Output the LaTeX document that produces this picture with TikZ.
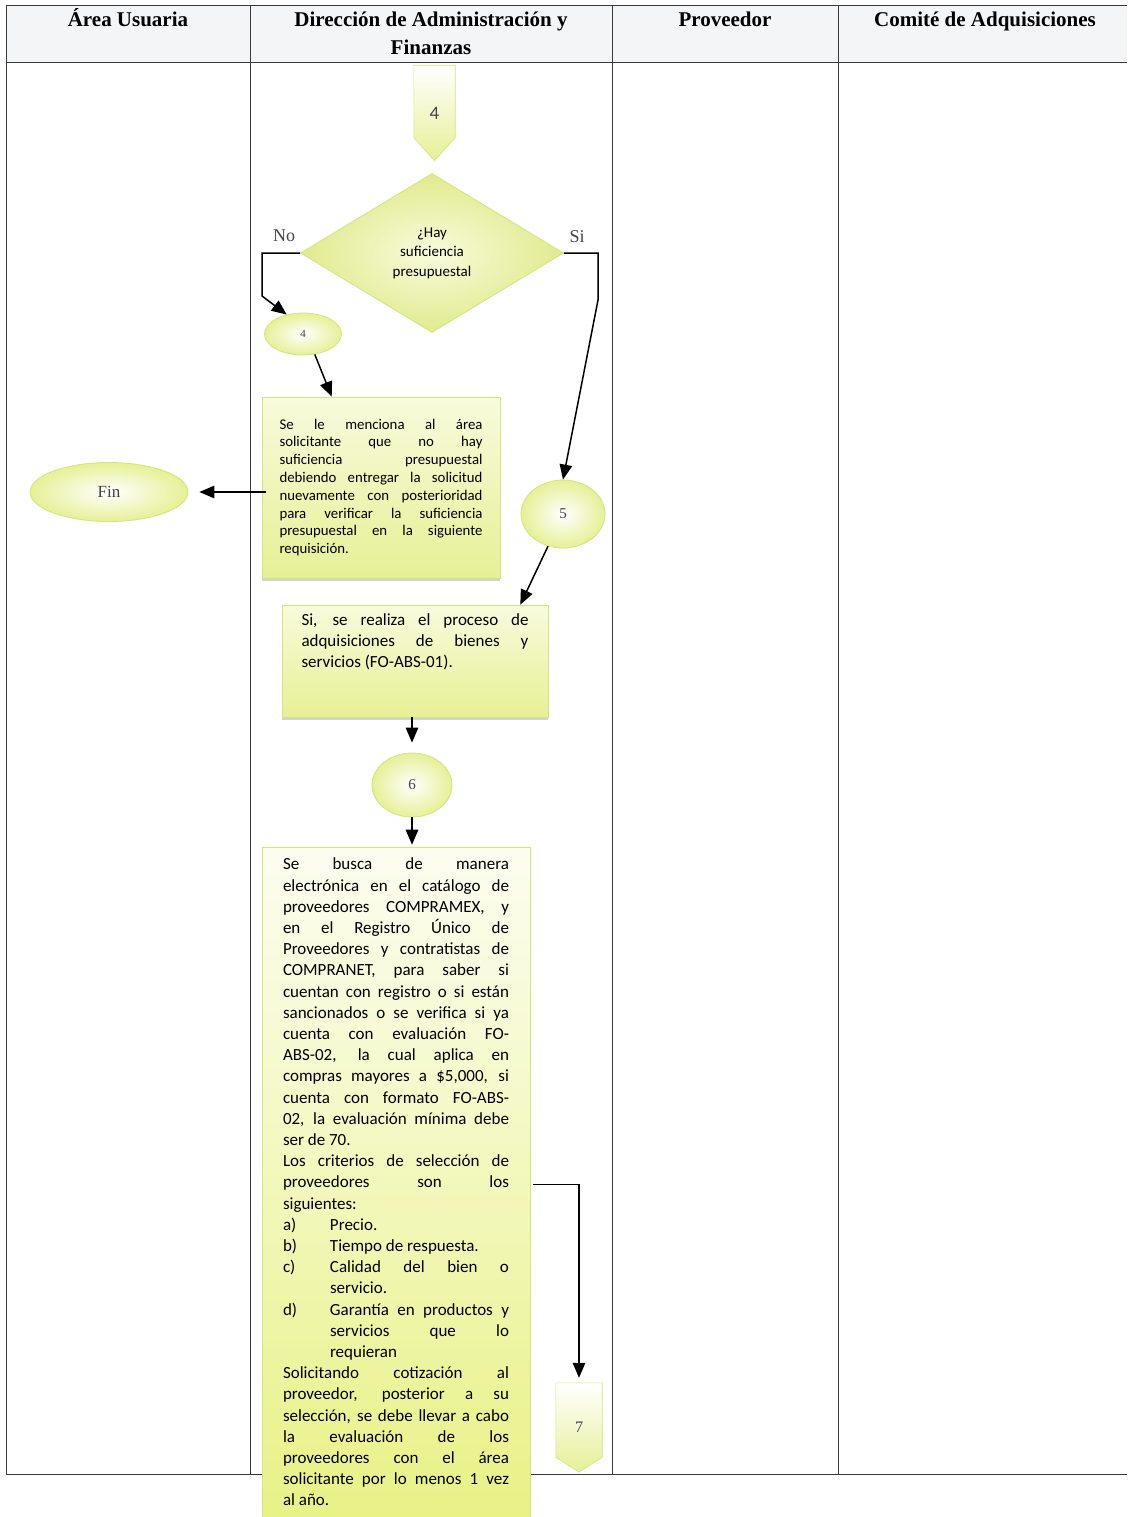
\documentclass[tikz,border=0pt]{standalone}
\usepackage{fontspec}
\setmainfont{Liberation Serif}
\newfontfamily\gill{Carlito}
\usetikzlibrary{arrows.meta,shapes.geometric,calc,backgrounds,shadows}
\definecolor{gedge}{HTML}{D3E47C}
\definecolor{gfill}{HTML}{E6F095}
\definecolor{glight}{HTML}{F8FBDC}
\definecolor{hdrfill}{HTML}{F3F5F7}
\definecolor{tline}{HTML}{3A3A3A}
\definecolor{numgray}{HTML}{444444}
\tikzset{
  tableline/.style={tline, line width=0.9pt},
  hdr/.style={font=\bfseries\fontsize{21}{28}\selectfont, anchor=base, inner sep=0pt},
  flow/.style={-{Triangle[length=15pt,width=12.5pt]}, line width=1.5pt, black},
  oval/.style={ellipse, draw=gedge, line width=0.8pt, inner color=white, outer color=gfill, inner sep=0pt, text=numgray},
  textbox/.style={rectangle, inner sep=0pt, draw=gedge, line width=0.6pt, top color=glight, bottom color=gfill},
  pentframe/.style={rectangle, inner sep=0pt, text=numgray},
  pentfill/.style={draw=gedge, line width=0.6pt, top color=white, bottom color=gfill},
  lbl/.style={font=\fontsize{18}{18}\selectfont, inner sep=0pt, text=numgray}
}
\newcommand{\boxtext}[2]{\begin{minipage}{#1}\setlength{\parindent}{0pt}\tolerance=10000\hyphenpenalty=10000\exhyphenpenalty=10000\emergencystretch=20pt #2\end{minipage}}
\newcommand{\litem}[2]{\hangindent=47pt\hangafter=0\noindent\llap{\makebox[47pt][l]{#1}}#2\par}
\begin{document}
\begin{tikzpicture}[x=1pt,y=-1pt]
\useasboundingbox (0,0) rectangle (1127,1517);
% table
\fill[hdrfill] (6,5) rectangle (1127,62);
\draw[tableline] (6,5) -- (1127,5);
\draw[tableline] (6,62) -- (1127,62);
\draw[tableline] (6,1474) -- (1127,1474);
\foreach \xx in {6,250,612,838} \draw[tableline] (\xx,5) -- (\xx,1474);
\node[hdr] (h1) at (128,27) {Área Usuaria};
\node[hdr, align=center] (h2) at (431,55) {Dirección de Administración y\\Finanzas};
\node[hdr] (h3) at (725,27) {Proveedor};
\node[hdr] (h4) at (985,27) {Comité de Adquisiciones};

% off-page connector 4
\node[pentframe, minimum width=41pt, minimum height=95pt, font=\gill\fontsize{19}{19}\selectfont] (p4) at (434.5,113) {4};
\begin{scope}[on background layer]
\shade[pentfill] (p4.north west) -- (p4.north east) -- ($(p4.south east)+(0,-23)$) -- (p4.south) -- ($(p4.south west)+(0,-23)$) -- cycle;
\end{scope}

% decision
\node[diamond, aspect=1.65, minimum width=263pt, minimum height=159pt, inner sep=0pt,
      draw=gedge, line width=0.8pt, inner color=glight, outer color=gfill!95!olive,
      align=center, font=\gill\fontsize{15}{19.5}\selectfont] (dec) at (432,253) {¿Hay\\suficiencia\\presupuestal};
\node[lbl] (lno) at (284,236) {No};
\node[lbl] (lsi) at (577,237) {Si};

% small connector 4
\node[oval, minimum width=77pt, minimum height=42pt, font=\fontsize{11}{11}\selectfont] (e4) at (303,334) {4};

% box 1
\node[textbox, minimum width=238pt, minimum height=181pt,
      drop shadow={shadow xshift=0pt, shadow yshift=-3pt, opacity=0.35, fill=gray}] (b1) at (381,487.5)
 {\boxtext{203pt}{\gill\fontsize{14.8}{17.8}\selectfont
 Se le menciona al área\linebreak solicitante que no hay\linebreak suficiencia presupuestal\linebreak debiendo entregar la solicitud\linebreak nuevamente con posterioridad\linebreak para verificar la suficiencia\linebreak presupuestal en la siguiente\linebreak requisición.\par}};

% Fin
\node[oval, minimum width=158pt, minimum height=59pt, font=\fontsize{17}{17}\selectfont] (fin) at (109,492) {Fin};

% connector 5
\node[oval, minimum width=84pt, minimum height=68pt, font=\fontsize{15}{15}\selectfont] (e5) at (563,514) {5};

% box 2
\node[textbox, minimum width=266pt, minimum height=112pt,
      drop shadow={shadow xshift=0pt, shadow yshift=-3pt, opacity=0.35, fill=gray}] (b2) at (415,661)
 {\begin{minipage}[c][112pt][t]{227pt}\vspace*{9pt}\setlength{\parindent}{0pt}\tolerance=10000\hyphenpenalty=10000\exhyphenpenalty=10000
 \gill\fontsize{17}{21}\selectfont
 Si, se realiza el proceso de\linebreak adquisiciones de bienes y\linebreak servicios (FO-ABS-01).\par\end{minipage}};

% connector 6
\node[oval, minimum width=80pt, minimum height=64pt, font=\fontsize{15}{15}\selectfont] (e6) at (412,785) {6};

% box 3
\node[rectangle, inner sep=0pt, draw=gedge, line width=0.6pt, top color=white!60!glight, bottom color=gfill!90!yellow,
      minimum width=268pt, minimum height=670pt] (b3) at (396,1182)
 {\boxtext{226pt}{\gill\fontsize{17}{21.2}\selectfont
 Se busca de manera\linebreak electrónica en el catálogo de\linebreak proveedores COMPRAMEX, y\linebreak en el Registro Único de\linebreak Proveedores y contratistas de\linebreak COMPRANET, para saber si\linebreak cuentan con registro o si están\linebreak sancionados o se verifica si ya\linebreak cuenta con evaluación FO-\linebreak ABS-02, la cual aplica en\linebreak compras mayores a \$5,000, si\linebreak cuenta con formato FO-ABS-\linebreak 02, la evaluación mínima debe\linebreak ser de 70.\par
 Los criterios de selección de\linebreak proveedores son los\linebreak siguientes:\par
 \litem{a)}{Precio.}
 \litem{b)}{Tiempo de respuesta.}
 \litem{c)}{Calidad del bien o\linebreak servicio.}
 \litem{d)}{Garantía en productos y\linebreak servicios que lo\linebreak requieran}
 Solicitando cotización al\linebreak proveedor, posterior a su\linebreak selección, se debe llevar a cabo\linebreak la evaluación de los\linebreak proveedores con el área\linebreak solicitante por lo menos 1 vez\linebreak al año.\par}};

% off-page connector 7
\node[pentframe, minimum width=46pt, minimum height=89pt, font=\fontsize{16}{16}\selectfont] (p7) at (579,1427.5) {7};
\begin{scope}[on background layer]
\shade[pentfill] (p7.north west) -- (p7.north east) -- ($(p7.south east)+(0,-15)$) -- (p7.south) -- ($(p7.south west)+(0,-15)$) -- cycle;
\end{scope}

% connectors
\coordinate (noc) at (262,296);
\coordinate (sic) at (598,300);
\draw[flow] (dec.west) -| (noc) -- (e4.130);
\draw[flow] (dec.east) -| (sic) -- (e5.north);
\draw[flow] (e4.-60) -- ($(b1.north west)+(70,0)$);
\draw[flow, shorten <=-4pt, shorten >=11pt] ([yshift=-4.5pt]b1.west) -- (fin.east);
\draw[flow] (e5.-115) -- ($(b2.north east)+(-28,0)$);
\draw[flow, shorten >=10pt] (e6.north |- b2.south) -- (e6.north);
\draw[flow, shorten >=2pt] (e6.south) -- (e6.south |- b3.north);
\draw[flow, shorten >=5pt] ($(b3.north east)+(3,338)$) -| (p7.north);
\end{tikzpicture}
\end{document}
